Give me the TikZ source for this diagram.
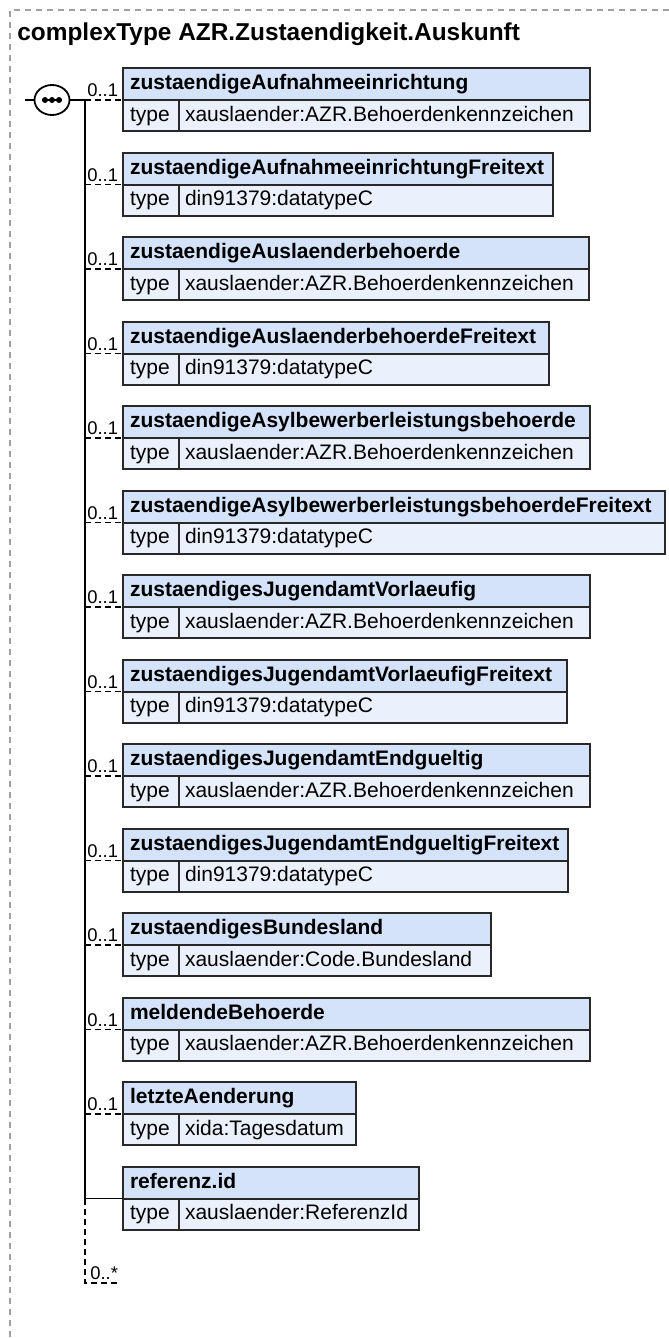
\documentclass[tikz,border=0pt]{standalone}
\usepackage{fontspec}
\setmainfont{Liberation Sans}
\usetikzlibrary{shapes.geometric}
\definecolor{headfill}{RGB}{212,227,250}
\definecolor{rowfill}{RGB}{234,241,252}
\definecolor{boxline}{RGB}{40,40,40}
\definecolor{framegray}{RGB}{160,160,160}

\begin{document}
\begin{tikzpicture}[x=0.5pt,y=-0.5pt,
    boxfont/.style={font=\fontsize{10.5}{12}\selectfont},
    elemhead/.style={draw=boxline, fill=headfill, line width=1pt, anchor=north west,
      minimum height=16pt, inner xsep=3.5pt, inner ysep=0pt, outer sep=0pt, align=left,
      text height=7.7pt, text depth=2.2pt, font=\bfseries\fontsize{10.5}{12}\selectfont},
    typecell/.style={draw=boxline, fill=rowfill, line width=1pt, anchor=north west,
      minimum height=15.5pt, text width=21pt, inner xsep=3.5pt, inner ysep=0pt,
      outer sep=0pt, align=left, text height=7.7pt, text depth=2.2pt, boxfont},
    typeval/.style={typecell, inner xsep=3pt},
    mult/.style={anchor=base east, xshift=-2.3pt, yshift=1.6pt, inner sep=0pt,
      font=\fontsize{9.2}{11}\selectfont},
    conn/.style={line width=0.8pt},
    optline/.style={conn, dash pattern=on 3pt off 2pt},
    frame/.style={framegray, line width=0.6pt, dash pattern=on 3pt off 2.5pt},
    seqnode/.style={ellipse, draw, line width=0.9pt, fill=white,
      minimum width=17.5pt, minimum height=15pt, inner sep=0pt, outer sep=0pt}
  ]
  \useasboundingbox (0,0) rectangle (669,1338);
  \draw[frame] (669,10) -- (10,10) -- (10,1338);

  \node[anchor=base west, inner sep=0pt, font=\bfseries\fontsize{12.2}{14}\selectfont]
    (title) at (17,41) {complexType AZR.Zustaendigkeit.Auskunft};

  % sequence compositor
  \coordinate (in) at (25,100);
  \coordinate (trunk) at (85,100);
  \node[seqnode] (seq) at (52,100) {};
  \draw[conn] (in) -- (seq);
  \draw[conn] (seq) -- (trunk);
  \draw[line width=0.6pt] (seq.center) ++(-10,0) -- ++(20,0);
  \foreach \d in {-7,0,7}
    \fill (seq.center) ++(\d,0) circle (3);

  % optional children
  \foreach \ename/\etype/\eright [count=\i from 0] in {
    zustaendigeAufnahmeeinrichtung/xauslaender:AZR.Behoerdenkennzeichen/590,
    zustaendigeAufnahmeeinrichtungFreitext/din91379:datatypeC/553,
    zustaendigeAuslaenderbehoerde/xauslaender:AZR.Behoerdenkennzeichen/589,
    zustaendigeAuslaenderbehoerdeFreitext/din91379:datatypeC/549,
    zustaendigeAsylbewerberleistungsbehoerde/xauslaender:AZR.Behoerdenkennzeichen/590,
    zustaendigeAsylbewerberleistungsbehoerdeFreitext/din91379:datatypeC/665,
    zustaendigesJugendamtVorlaeufig/xauslaender:AZR.Behoerdenkennzeichen/590,
    zustaendigesJugendamtVorlaeufigFreitext/din91379:datatypeC/567,
    zustaendigesJugendamtEndgueltig/xauslaender:AZR.Behoerdenkennzeichen/590,
    zustaendigesJugendamtEndgueltigFreitext/din91379:datatypeC/568,
    zustaendigesBundesland/xauslaender:Code.Bundesland/491,
    meldendeBehoerde/xauslaender:AZR.Behoerdenkennzeichen/590,
    letzteAenderung/xida:Tagesdatum/356
  }{
    \pgfmathsetmacro\etop{68+84.5*\i}
    \pgfmathsetmacro\hw{(\eright-123)*0.5-7}
    \pgfmathsetmacro\vw{(\eright-179)*0.5-6}
    \node[elemhead, text width=\hw pt] (e\i) at (123,\etop) {\ename};
    \node[typecell] (t\i) at (e\i.south west) {type};
    \node[typeval, text width=\vw pt] (v\i) at (t\i.north east) {\etype};
    \coordinate (j\i) at (85,\etop+32);
    \draw[optline] (j\i) -- (e\i.south west);
    \node[mult] (m\i) at (e\i.south west) {0..1};
  }

  % required child
  \node[elemhead, text width=141pt] (e13) at (123,1166.5) {referenz.id};
  \node[typecell] (t13) at (e13.south west) {type};
  \node[typeval, text width=114pt] (v13) at (t13.north east) {xauslaender:ReferenzId};
  \coordinate (j13) at (85,1198.5);
  \draw[conn] (j13) -- (e13.south west);
  \draw[conn] (trunk) -- (j13);

  % repetition of the sequence
  \coordinate (tail) at (85,1283);
  \draw[optline] (j13) -- (tail) -- ++(35,0);
  \node[anchor=base west, inner sep=0pt, font=\fontsize{9.2}{11}\selectfont]
    (rep) at (90,1279) {0..*};
\end{tikzpicture}
\end{document}
